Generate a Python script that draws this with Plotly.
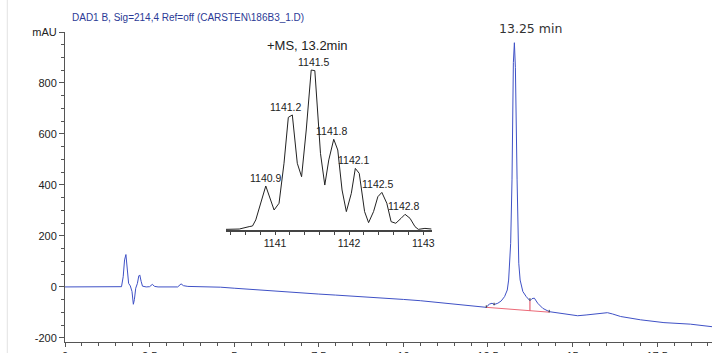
import plotly.graph_objects as go

# ---------------- data ----------------
chrom_time = [0.0, 1.0, 1.60, 1.67, 1.72, 1.76, 1.80, 1.84, 1.88, 1.93, 1.98, 2.02, 2.05, 2.09,
              2.14, 2.18, 2.21, 2.25, 2.29, 2.40, 2.50, 2.58, 2.65, 2.75, 3.33, 3.43, 3.50, 3.63,
              4.26, 4.6, 5.0, 5.5, 6.0, 6.5, 7.0, 7.5, 8.0, 8.68, 9.3, 10.0, 10.5, 11.0, 11.5,
              11.9, 12.40, 12.45, 12.50, 12.55, 12.62, 12.68, 12.79, 12.89, 12.99, 13.07, 13.11,
              13.14, 13.17, 13.21, 13.25, 13.28, 13.31, 13.36, 13.38, 13.41, 13.45, 13.53, 13.63,
              13.74, 13.80, 13.87, 13.97, 14.12, 14.31, 14.66, 15.0, 15.15, 15.40, 15.69, 15.88,
              16.03, 16.18, 16.42, 17.01, 17.70, 18.48, 19.12]
chrom_mau = [0, 0, 0, 1, 40, 106, 127, 67, 14, 4, -18, -68, -50, -5,
             14, 43, 47, 22, 3, 0, 1, 10, 2, 0, 0, 12, 5, 2,
             1, -1, -5, -10, -15, -20, -25, -28, -32, -37, -42, -49, -54, -60, -66,
             -72, -78, -80, -72, -67, -64, -69, -64, -55, -38, -12, 27,
             93, 171, 420, 880, 958, 860, 420, 223, 93, 27, -18, -38,
             -54, -46, -44, -64, -84, -97, -104, -111, -113, -110, -106, -103,
             -101, -106, -116, -129, -140, -146, -156]

# integration baseline (red) and drop line
base_t = [12.45, 14.31]
base_v = [-80, -99]
drop_t = [13.74, 13.74]
drop_v = [-93, -54]
# integration tick marks (time, low, high)
mark_t = [12.45, 12.68, 13.74, 14.31]
mark_lo = [-82, -72, -54, -100]
mark_hi = [-72, -62, -44, -90]

main_peak_t = 13.28
main_peak_v = 958
main_peak_label = "13.25 min"

# inset mass spectrum
ms_mz = [1140.338, 1140.517, 1140.651, 1140.696, 1140.740, 1140.808, 1140.875, 1140.987,
         1141.054, 1141.121, 1141.179, 1141.233, 1141.300, 1141.358, 1141.421, 1141.488,
         1141.537, 1141.613, 1141.671, 1141.725, 1141.792, 1141.846, 1141.904, 1141.962,
         1142.029, 1142.083, 1142.136, 1142.208, 1142.262, 1142.329, 1142.387, 1142.441,
         1142.508, 1142.566, 1142.629, 1142.700, 1142.754, 1142.821, 1142.888, 1142.933,
         1143.022, 1143.112]
ms_int = [0.4, 0.6, 2.1, 2.5, 6.3, 16.7, 27.5, 12.5,
          16.7, 41.7, 70.4, 71.9, 41.7, 33.3, 62.5, 100,
          99.6, 47.9, 28.1, 43.8, 56.7, 50, 25, 11.5,
          22.9, 38.5, 35.4, 11.5, 4.6, 11.5, 20.8, 23.5,
          16.7, 5.2, 4.2, 7.3, 9.8, 7.3, 2.1, 0.4,
          1.0, 0.6]
ms_peak_mz = [1140.875, 1141.233, 1141.51, 1141.792, 1142.083, 1142.441, 1142.754]
ms_peak_int = [27.5, 71.9, 100, 56.7, 38.5, 23.5, 9.8]
ms_peak_labels = ["1140.9", "1141.2", "1141.5", "1141.8", "1142.1", "1142.5", "1142.8"]
label_xshift = [0, -7, 1, -2, -2, -4, -2]
ms_title = "+MS, 13.2min"
ms_ticks = [1141, 1142, 1143]

y_tickvals = [-200, 0, 200, 400, 600, 800, 1000]
y_ticktext = ["-200", "0", "200", "400", "600", "800", "mAU"]
x_tickvals = [0, 2.5, 5, 7.5, 10, 12.5, 15, 17.5]
x_ticktext = ["0", "2.5", "5", "7.5", "10", "12.5", "15", "17.5"]

chart_title = "DAD1 B, Sig=214,4 Ref=off (CARSTEN\\186B3_1.D)"

# ---------------- figure ----------------
FONT = "Liberation Sans, Arial, sans-serif"
fig = go.Figure()

fig.add_trace(go.Scatter(x=chrom_time, y=chrom_mau, mode="lines",
                         line=dict(color="#3f51c6", width=1), hoverinfo="skip"))
fig.add_trace(go.Scatter(x=base_t, y=base_v, mode="lines",
                         line=dict(color="#ec6a78", width=1), hoverinfo="skip"))
fig.add_trace(go.Scatter(x=drop_t, y=drop_v, mode="lines",
                         line=dict(color="#e0455a", width=1), hoverinfo="skip"))
mx, my = [], []
for t, lo, hi in zip(mark_t, mark_lo, mark_hi):
    mx += [t, t, None]
    my += [lo, hi, None]
fig.add_trace(go.Scatter(x=mx, y=my, mode="lines",
                         line=dict(color="#333333", width=1), hoverinfo="skip"))

fig.add_trace(go.Scatter(x=ms_mz, y=ms_int, mode="lines", xaxis="x2", yaxis="y2",
                         line=dict(color="#222222", width=1), hoverinfo="skip"))

annotations = []
for mz, it, lab, dx in zip(ms_peak_mz, ms_peak_int, ms_peak_labels, label_xshift):
    annotations.append(dict(x=mz, y=it, xref="x2", yref="y2", text=lab, showarrow=False,
                            xanchor="center", yanchor="bottom", xshift=dx, yshift=0,
                            font=dict(family=FONT, size=10.5, color="#222")))
annotations.append(dict(x=ms_peak_mz[2], y=ms_peak_int[2], xref="x2", yref="y2", text=ms_title,
                        showarrow=False, xanchor="center", yanchor="middle", xshift=-5, yshift=25,
                        font=dict(family=FONT, size=13, color="#222")))
annotations.append(dict(x=main_peak_t, y=main_peak_v, xref="x", yref="y", text=main_peak_label,
                        showarrow=False, xanchor="left", yanchor="middle", xshift=-17, yshift=14,
                        font=dict(family="DejaVu Sans, sans-serif", size=12.5, color="#333")))
annotations.append(dict(x=0.008, y=1.0, xref="paper", yref="paper", text=chart_title,
                        showarrow=False, xanchor="left", yanchor="bottom", yshift=7,
                        font=dict(family=FONT, size=10, color="#2b3a96")))

fig.update_layout(
    width=715, height=353,
    margin=dict(l=65, r=0, t=32, b=11),
    paper_bgcolor="white", plot_bgcolor="white",
    showlegend=False,
    annotations=annotations,
    xaxis=dict(range=[0, 19.12], tickvals=x_tickvals, ticktext=x_ticktext,
               ticks="outside", ticklen=4, tickcolor="#555", showline=True,
               linecolor="#555", linewidth=1, showgrid=False, zeroline=False,
               automargin=False,
               minor=dict(ticks="outside", ticklen=3, dtick=0.5, tick0=0, tickcolor="#555"),
               tickfont=dict(family=FONT, size=11, color="#222")),
    yaxis=dict(range=[-216, 1000], tickvals=y_tickvals, ticktext=y_ticktext,
               ticks="outside", ticklen=5, tickcolor="#555", showline=True,
               linecolor="#555", linewidth=1, showgrid=False, zeroline=False,
               automargin=False,
               minor=dict(ticks="outside", ticklen=3, dtick=50, tick0=0, tickcolor="#555"),
               tickfont=dict(family=FONT, size=11, color="#222")),
    xaxis2=dict(domain=[0.2488, 0.5666], anchor="y2", range=[1140.338, 1143.112],
                tickvals=ms_ticks, ticks="outside", ticklen=3, tickcolor="#444",
                showline=True, linecolor="#444", linewidth=1.5, showgrid=False, zeroline=False,
                minor=dict(ticks="outside", ticklen=3, dtick=0.2, tick0=1141, tickcolor="#444"),
                tickfont=dict(family=FONT, size=10.5, color="#222")),
    yaxis2=dict(domain=[0.3613, 0.9032], anchor="x2", range=[0, 105], visible=False),
    shapes=[dict(type="line", xref="paper", yref="paper", x0=-0.0892, x1=-0.0892,
                 y0=-0.05, y1=1.12, line=dict(color="#e2e2e2", width=1))],
)

fig.write_html("out.html", config={"displayModeBar": False},
               post_script="document.body.style.margin='0';document.body.style.overflow='hidden';")
